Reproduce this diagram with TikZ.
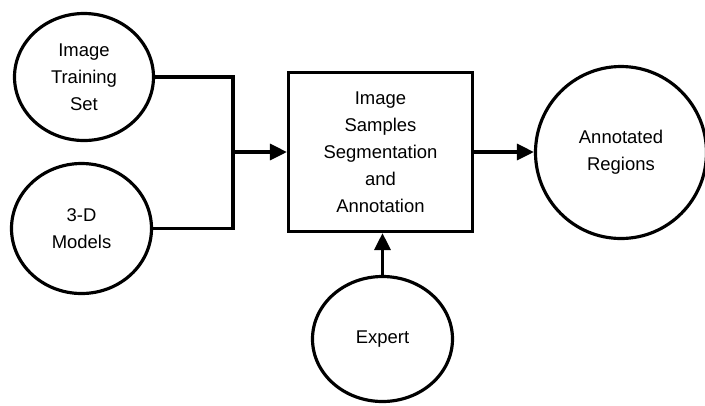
\documentclass[tikz,border=0pt]{standalone}
\usepackage{fontspec}
\setmainfont{Liberation Sans}
\usepackage{tikz}
\usetikzlibrary{arrows.meta}
\usetikzlibrary{positioning}
\usetikzlibrary{shapes.geometric}

\begin{document}
\begin{tikzpicture}[
    thick line/.style={line width=1.8pt},
    blob/.style={thick line, draw, ellipse, inner sep=0pt, align=center,
      font=\fontsize{10.5}{15.4}\selectfont},
    procbox/.style={thick line, draw, rectangle, align=center,
      minimum width=3.68cm, minimum height=3.18cm,
      font=\fontsize{10.5}{15.4}\selectfont},
    flow/.style={thick line, -{Triangle[length=0.34cm,width=0.32cm]}}
  ]
    \clip (0, 0) rectangle (14.1, -8.1);

    \node [blob, minimum width=2.78cm, minimum height=2.54cm] (train) at (1.68, -1.54) {Image\\Training\\Set};
    \node [blob, minimum width=2.80cm, minimum height=2.60cm] (models) at (1.63, -4.57) {3-D\\Models};
    \node [procbox] (seg) at (7.61, -3.04) {Image\\Samples\\Segmentation\\and\\Annotation};
    \node [blob, minimum width=3.42cm, minimum height=3.44cm] (regions) at (12.42, -3.05) {Annotated\\Regions};
    \node [blob, minimum width=2.80cm, minimum height=2.50cm] (expert) at (7.65, -6.78) {Expert};

    \path (seg.west) ++(-1.08, 0) coordinate (join);

    \draw [thick line, line join=miter] (train.east) -| (join) |- (models.east);
    \draw [flow] (join) -- (seg.west);
    \draw [flow] (seg.east) -- (seg.east -| regions.west);
    \draw [flow] (expert.north) -- (expert.north |- seg.south);
  \end{tikzpicture}
\end{document}
